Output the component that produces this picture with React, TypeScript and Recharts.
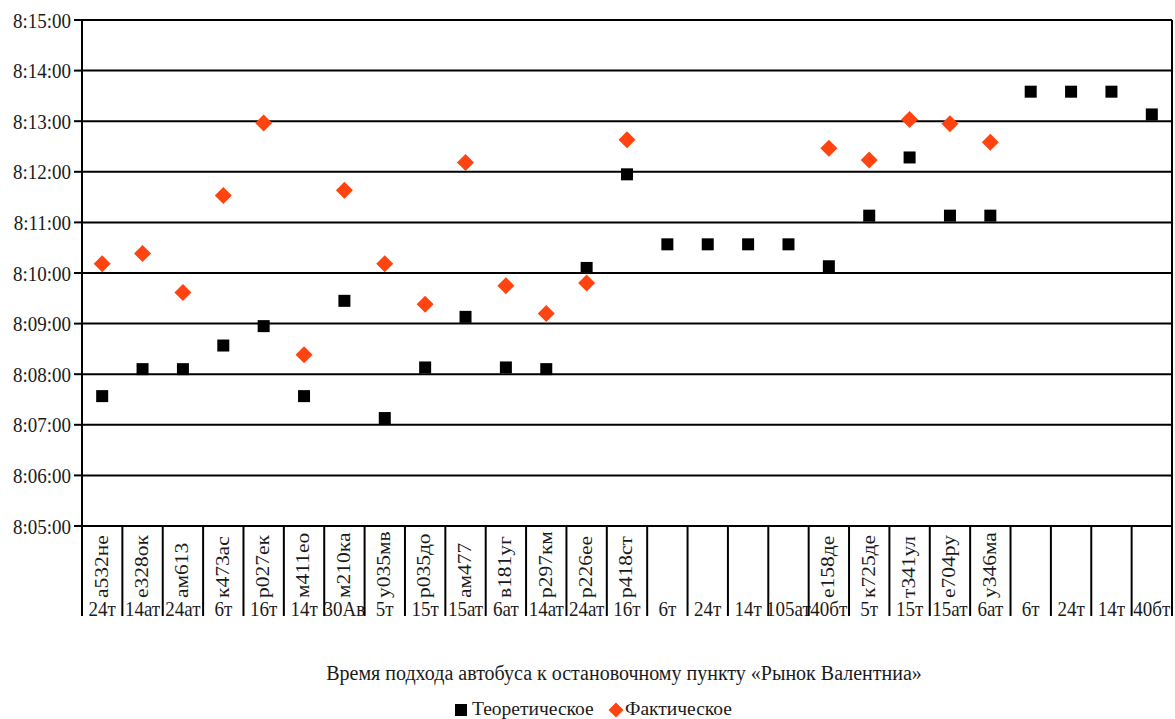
import React from "react";
import {
  ScatterChart,
  Scatter,
  XAxis,
  YAxis,
  CartesianGrid,
  ReferenceLine,
} from "recharts";

// bus plates (upper row of the category axis), empty where not recorded
const plates = [
  "а532не", "е328ок", "ам613", "к473ас", "р027ек", "м411ео", "м210ка",
  "у035мв", "р035до", "ам477", "в181уг", "р297км", "р226ее", "р418ст",
  "", "", "", "",
  "е158де", "к725де", "т341ул", "е704ру", "у346ма",
  "", "", "", "",
];

// route numbers (lower row)
const routes = [
  "24т", "14ат", "24ат", "6т", "16т", "14т", "30Ав", "5т", "15т", "15ат",
  "6ат", "14ат", "24ат", "16т", "6т", "24т", "14т", "105ат", "40бт", "5т",
  "15т", "15ат", "6ат", "6т", "24т", "14т", "40бт",
];

const theoretical = [
  "8:07:34", "8:08:06", "8:08:06", "8:08:34", "8:08:57", "8:07:34", "8:09:27",
  "8:07:08", "8:08:08", "8:09:08", "8:08:08", "8:08:06", "8:10:06", "8:11:57",
  "8:10:34", "8:10:34", "8:10:34", "8:10:34", "8:10:08", "8:11:08", "8:12:17",
  "8:11:08", "8:11:08", "8:13:35", "8:13:35", "8:13:35", "8:13:08",
];

const actual: (string | null)[] = [
  "8:10:11", "8:10:23", "8:09:37", "8:11:32", "8:12:58", "8:08:23", "8:11:38",
  "8:10:11", "8:09:23", "8:12:11", "8:09:45", "8:09:12", "8:09:48", "8:12:38",
  null, null, null, null,
  "8:12:28", "8:12:14", "8:13:02", "8:12:57", "8:12:35",
  null, null, null, null,
];

const yTickLabels = [
  "8:05:00", "8:06:00", "8:07:00", "8:08:00", "8:09:00", "8:10:00",
  "8:11:00", "8:12:00", "8:13:00", "8:14:00", "8:15:00",
];

const FONT = "Liberation Serif";
const TEXT = "#1a1a1a";
const STRETCH = 1.13;
const WIDTH = 1175;
const HEIGHT = 719;
const Y_AXIS_W = 82;
const RIGHT = 3;
const HALF_CAT = (WIDTH - Y_AXIS_W - RIGHT) / plates.length / 2;

const toSec = (t: string) => {
  const [h, m, s] = t.split(":").map(Number);
  return h * 3600 + m * 60 + s;
};

const pad = (n: number) => (n < 10 ? "0" + n : "" + n);
const fmtTime = (v: number) =>
  `${Math.floor(v / 3600)}:${pad(Math.floor((v % 3600) / 60))}:${pad(v % 60)}`;

const yTicks = yTickLabels.map(toSec);
const catTicks = Array.from({ length: plates.length + 1 }, (_, i) => i);

const theoryPts = theoretical.map((t, i) => ({ x: i + 0.5, y: toSec(t) }));
const actualPts = actual
  .map((t, i) => (t ? { x: i + 0.5, y: toSec(t) } : null))
  .filter(Boolean) as { x: number; y: number }[];

// axis text is a bit taller than wide, like the original export
const Label = ({ x, y, size, anchor = "start", rotate = false, dy, stretch = STRETCH, children }: any) => (
  <g transform={`translate(${x}, ${y}) scale(1, ${stretch})${rotate ? " rotate(-90)" : ""}`}>
    <text x={0} y={0} dy={dy} textAnchor={anchor} fontFamily={FONT} fontSize={size} fill={TEXT}>
      {children}
    </text>
  </g>
);

// separator line at each category boundary + two rows of labels
const CategoryTick = (props: any) => {
  const { x, y, payload } = props;
  const i = payload.value;
  const cx = x + HALF_CAT;
  return (
    <g>
      <line x1={x} y1={y} x2={x} y2={y + 90} stroke="#000" strokeWidth={2} />
      {i < plates.length && (
        <>
          <Label x={cx} y={y + 72} size={19} rotate dy="0.28em">
            {plates[i]}
          </Label>
          <Label x={cx} y={y + 90} size={19} anchor="middle">
            {routes[i]}
          </Label>
        </>
      )}
    </g>
  );
};

const TimeTick = (props: any) => (
  <Label x={props.x} y={props.y} size={19} anchor="end" dy="0.35em">
    {fmtTime(props.payload.value)}
  </Label>
);

const Square = (props: any) => (
  <rect x={props.cx - 6} y={props.cy - 6} width={12} height={12} fill="#000" />
);

const diamondPoints = (cx: number, cy: number, r: number) =>
  `${cx},${cy - r} ${cx + r},${cy} ${cx},${cy + r} ${cx - r},${cy}`;

const Diamond = (props: any) => (
  <polygon points={diamondPoints(props.cx, props.cy, 8.5)} fill="#ff4411" />
);

export default function App() {
  return (
    <div
      style={{
        position: "absolute",
        top: 0,
        left: 0,
        width: WIDTH,
        height: HEIGHT,
        background: "#fff",
      }}
    >
      <ScatterChart
        width={WIDTH}
        height={640}
        margin={{ top: 20, right: RIGHT, bottom: 0, left: 0 }}
      >
        <CartesianGrid vertical={false} stroke="#000" strokeWidth={2} />
        <XAxis
          type="number"
          dataKey="x"
          domain={[0, plates.length]}
          ticks={catTicks}
          interval={0}
          height={114}
          tickSize={0}
          tickMargin={0}
          tickLine={false}
          axisLine={{ stroke: "#000", strokeWidth: 2 }}
          tick={<CategoryTick />}
        />
        <YAxis
          type="number"
          dataKey="y"
          domain={[yTicks[0], yTicks[yTicks.length - 1]]}
          ticks={yTicks}
          interval={0}
          width={Y_AXIS_W}
          tickSize={8}
          tickMargin={3}
          tickLine={{ stroke: "#000", strokeWidth: 2 }}
          axisLine={{ stroke: "#000", strokeWidth: 2 }}
          tick={<TimeTick />}
        />
        <ReferenceLine x={plates.length} stroke="#000" strokeWidth={2} />
        <Scatter
          name="Теоретическое"
          data={theoryPts}
          shape={<Square />}
          isAnimationActive={false}
        />
        <Scatter
          name="Фактическое"
          data={actualPts}
          shape={<Diamond />}
          isAnimationActive={false}
        />
      </ScatterChart>

      {/* axis title and legend under the chart */}
      <svg
        width={WIDTH}
        height={HEIGHT - 640}
        style={{ position: "absolute", left: 0, top: 640 }}
      >
        <Label x={624} y={40} size={20} anchor="middle" stretch={1}>
          Время подхода автобуса к остановочному пункту «Рынок Валентниа»
        </Label>
        <rect x={455} y={64} width={12} height={12} fill="#000" />
        <Label x={472} y={75} size={19.5} stretch={1}>
          Теоретическое
        </Label>
        <polygon points={diamondPoints(616, 70, 7.5)} fill="#ff4411" />
        <Label x={625} y={75} size={19.5} stretch={1}>
          Фактическое
        </Label>
      </svg>
    </div>
  );
}
